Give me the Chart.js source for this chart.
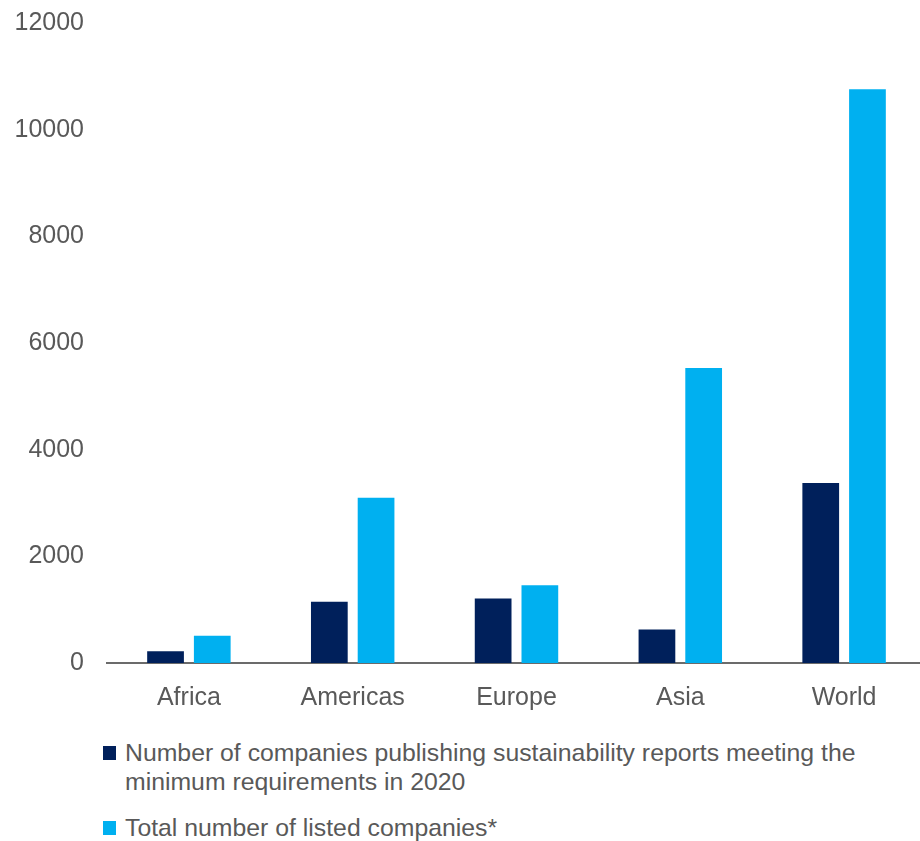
<!DOCTYPE html>
<html>
<head>
<meta charset="utf-8">
<script src="https://cdn.jsdelivr.net/npm/chart.js@4"></script>
<style>
  html, body { margin: 0; padding: 0; background: #fff; overflow: hidden; }
  #wrap { position: relative; width: 920px; height: 841px; overflow: hidden; }
  #chartBox { position: absolute; left: 0; top: 0; width: 930px; height: 720px; }
  #legend { position: absolute; left: 103px; top: 739px; width: 810px;
            font-family: "Liberation Sans", Arial, sans-serif; font-size: 24.8px; color: #595959; }
  .item { position: relative; padding-left: 22px; line-height: 28.5px; margin-bottom: 18px; }
  .swatch { position: absolute; left: 0; top: 7px; width: 13px; height: 14px; }
</style>
</head>
<body>
<div id="wrap">
  <div id="chartBox"><canvas id="c" width="930" height="720"></canvas></div>
  <div id="legend"></div>
</div>
<script>
// Listed companies by region and those publishing sustainability reports
const regions = ["Africa", "Americas", "Europe", "Asia", "World"];
const reportingCompanies = [220, 1150, 1210, 630, 3375];
const listedCompanies = [510, 3100, 1460, 5530, 10760];
const yTicks = [0, 2000, 4000, 6000, 8000, 10000, 12000];

const seriesNames = [
  "Number of companies publishing sustainability reports meeting the minimum requirements in 2020",
  "Total number of listed companies*"
];
const seriesColors = ["#00205B", "#00B0F0"];

const font = { family: "'Liberation Sans', Arial, sans-serif", size: 25 };

const chart = new Chart(document.getElementById("c"), {
  type: "bar",
  data: {
    labels: regions,
    datasets: [
      { label: seriesNames[0], data: reportingCompanies, backgroundColor: seriesColors[0] },
      { label: seriesNames[1], data: listedCompanies, backgroundColor: seriesColors[1] }
    ]
  },
  options: {
    responsive: false,
    animation: false,
    devicePixelRatio: 1,
    layout: { padding: { top: 23, right: 4, left: 0, bottom: 0 } },
    datasets: { bar: { categoryPercentage: 0.5705, barPercentage: 0.786, borderWidth: 0 } },
    plugins: { legend: { display: false }, tooltip: { enabled: false } },
    scales: {
      x: {
        grid: { display: false, drawTicks: false },
        border: { display: true, color: "#6b6b6b", width: 2 },
        ticks: { color: "#595959", font: font, padding: 20 },
        afterFit: s => { s.height = 57; }
      },
      y: {
        min: yTicks[0],
        max: yTicks[yTicks.length - 1],
        grid: { display: false, drawTicks: false },
        border: { display: false },
        afterBuildTicks: s => { s.ticks = yTicks.map(v => ({ value: v })); },
        ticks: { color: "#595959", font: font, padding: 23, callback: v => String(v) },
        afterFit: s => { s.width = 107; s.paddingTop = 0; s.paddingBottom = 0; }
      }
    }
  }
});

// Legend with wrapping text, built from the dataset labels
const legend = document.getElementById("legend");
chart.data.datasets.forEach(ds => {
  const item = document.createElement("div");
  item.className = "item";
  const sw = document.createElement("span");
  sw.className = "swatch";
  sw.style.background = ds.backgroundColor;
  item.appendChild(sw);
  item.appendChild(document.createTextNode(ds.label));
  legend.appendChild(item);
});
</script>
</body>
</html>
